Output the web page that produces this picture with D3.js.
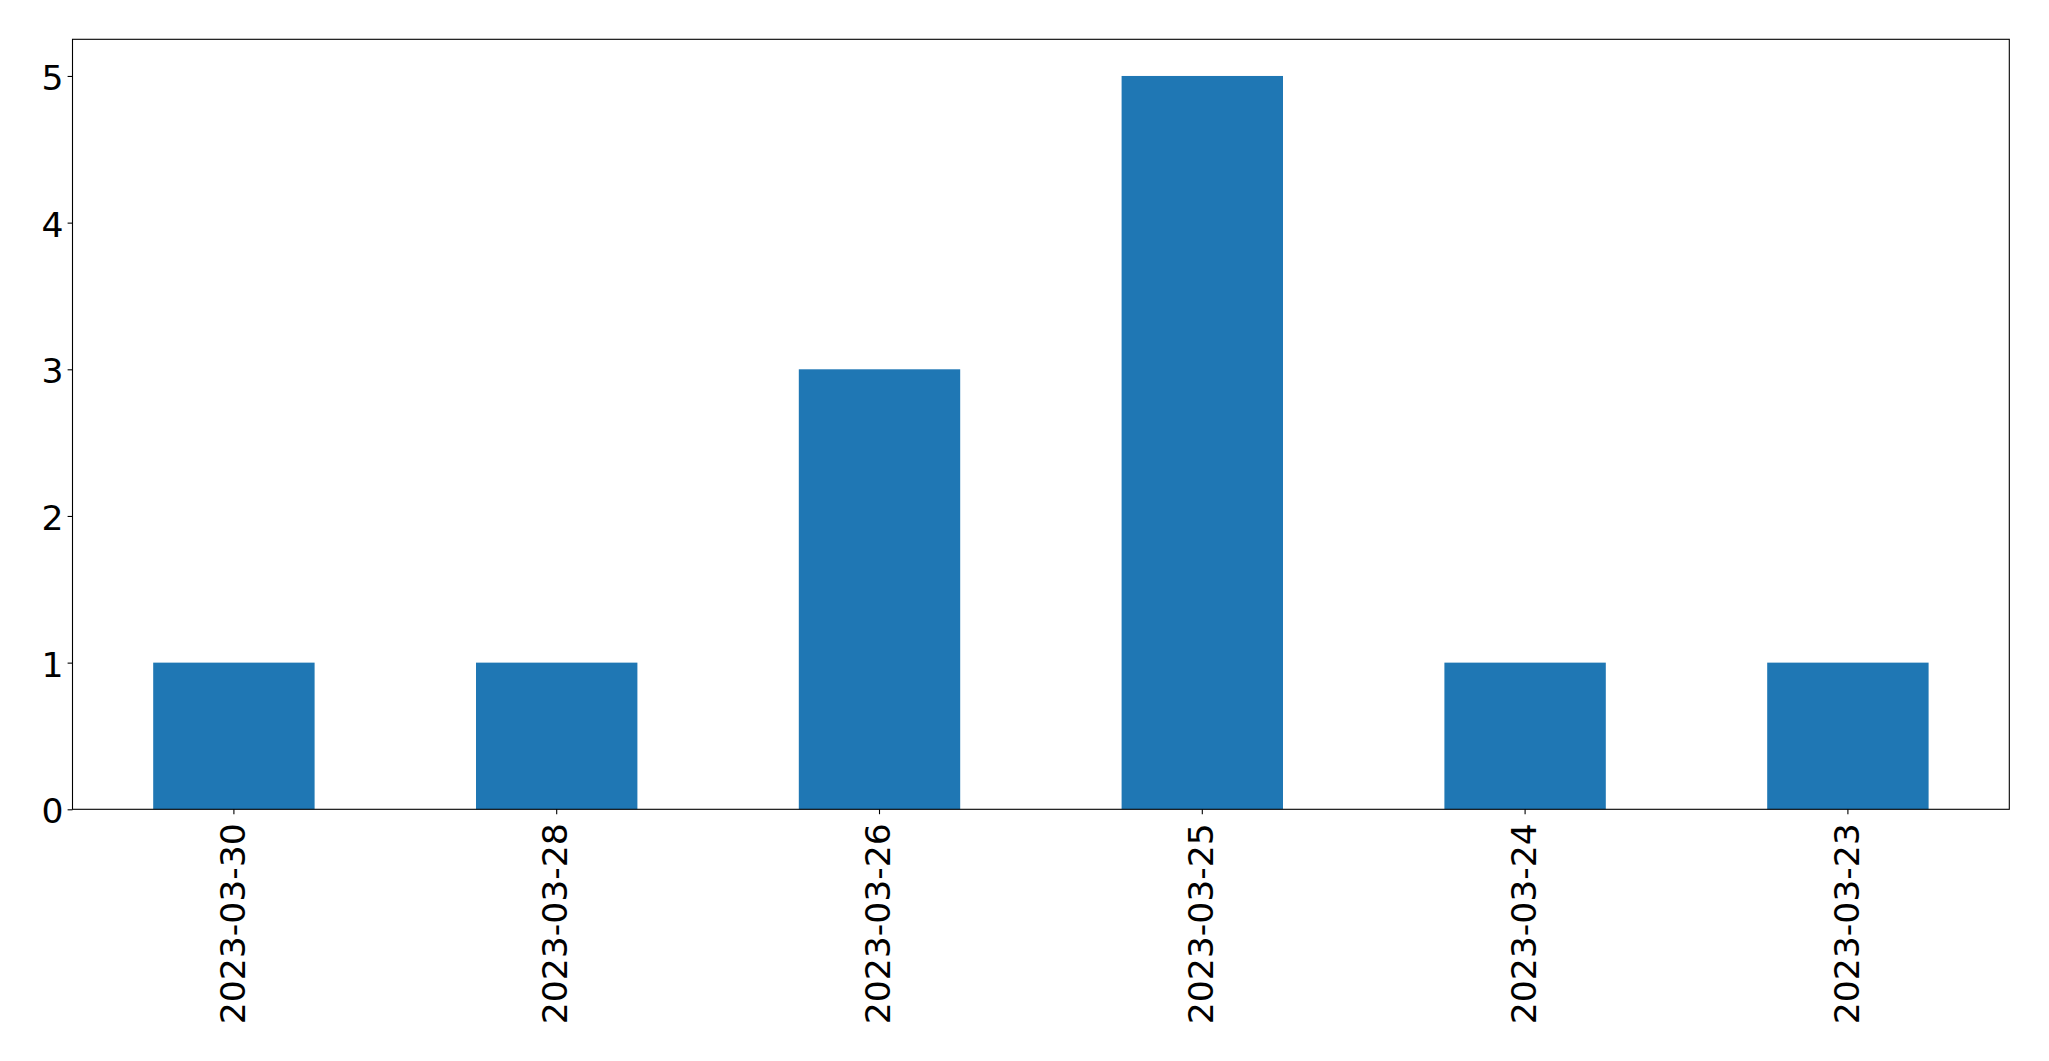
<!DOCTYPE html>
<html>
<head>
<meta charset="utf-8">
<script src="https://cdn.jsdelivr.net/npm/d3@7"></script>
<style>
  html, body { margin: 0; padding: 0; background: #ffffff; }
  svg { display: block; }
</style>
</head>
<body>
<svg id="chart" width="2049" height="1061"></svg>
<script>
const categories = ["2023-03-30", "2023-03-28", "2023-03-26", "2023-03-25", "2023-03-24", "2023-03-23"];
const values = [1, 1, 3, 5, 1, 1];
const yTicks = [0, 1, 2, 3, 4, 5];

const W = 2049, H = 1061;
const margin = { left: 72.5, right: W - 2009.3, top: 39.3, bottom: H - 809.3 };
const fontSize = 34.6;
const fontFamily = "'DejaVu Sans', sans-serif";

const svg = d3.select("#chart");
const x0 = margin.left, x1 = W - margin.right;
const y0 = H - margin.bottom, y1 = margin.top;

const x = d3.scaleBand().domain(categories).range([x0, x1]).paddingInner(0.5).paddingOuter(0.25);
const yMax = d3.max(values) * 1.05;
const y = d3.scaleLinear().domain([0, yMax]).range([y0, y1]);

// bars
svg.append("g").selectAll("rect").data(values).join("rect")
  .attr("x", (d, i) => x(categories[i]))
  .attr("width", x.bandwidth())
  .attr("y", d => y(d))
  .attr("height", d => y(0) - y(d))
  .attr("fill", "#1f77b4");

// y axis
const yAxis = d3.axisLeft(y).tickValues(yTicks).tickFormat(d3.format("d")).tickSize(4.9).tickPadding(4.1);
const gy = svg.append("g").attr("transform", `translate(${x0},0)`).call(yAxis);
gy.select(".domain").remove();
gy.selectAll("line").attr("stroke", "#000").attr("stroke-width", 1.1);
gy.selectAll("text").attr("font-size", fontSize).attr("font-family", fontFamily).attr("fill", "#000")
  .attr("dy", "0.39em");

// x axis
const xAxis = d3.axisBottom(x).tickSize(4.9).tickPadding(0);
const gx = svg.append("g").attr("transform", `translate(0,${y0})`).call(xAxis);
gx.select(".domain").remove();
gx.selectAll("line").attr("stroke", "#000").attr("stroke-width", 1.1);
gx.selectAll("text")
  .attr("font-size", fontSize).attr("font-family", fontFamily).attr("fill", "#000")
  .attr("text-anchor", "end")
  .attr("y", null)
  .attr("dy", "0.31em")
  .attr("transform", "translate(0,14) rotate(-90)");

// frame
svg.append("rect")
  .attr("x", x0).attr("y", y1)
  .attr("width", x1 - x0).attr("height", y0 - y1)
  .attr("fill", "none").attr("stroke", "#000").attr("stroke-width", 1.1);
</script>
</body>
</html>
